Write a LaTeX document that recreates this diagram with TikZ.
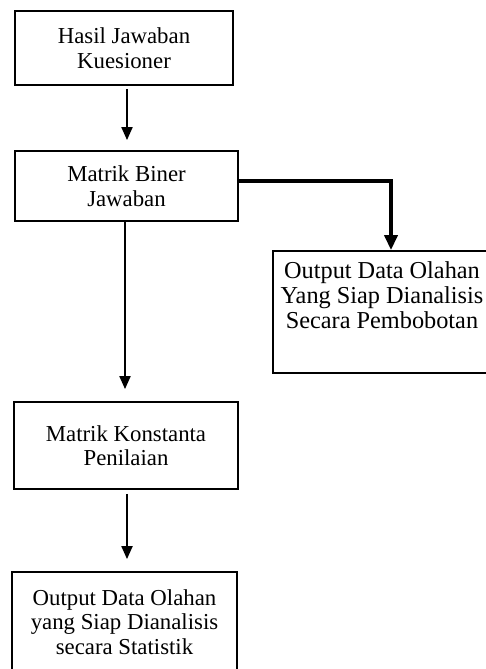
\documentclass[tikz,border=0pt]{standalone}
\usepackage{fontspec}
\setmainfont{Liberation Serif}
\usetikzlibrary{positioning, arrows.meta, calc}
\tikzset{
  every node/.style={font=\fontsize{22.8}{24.5}\selectfont},
  box/.style={draw, line width=1.8pt, align=center, inner sep=4pt},
  arr/.style={-{Triangle[length=13pt, width=11pt]}, line width=2pt},
  arrthick/.style={-{Triangle[length=15pt, width=13pt]}, line width=3.5pt},
}

\begin{document}
\begin{tikzpicture}[x=1pt, y=-1pt]
  \useasboundingbox (0,0) rectangle (486,669);
  \clip (0,0) rectangle (486,669);
  % main column
  \node[box, minimum width=218pt, minimum height=74pt] (hasil) at (124,48)
    {Hasil Jawaban\\Kuesioner};
  \node[box, minimum width=223pt, minimum height=70pt] (biner) at (126.5,186)
    {Matrik Biner\\Jawaban};
  \node[box, minimum width=224pt, minimum height=87pt] (konstanta) at (126,445.5)
    {Matrik Konstanta\\Penilaian};
  \node[box, minimum width=225pt, minimum height=122pt] (statistik) at (124.5,633)
    {Output Data Olahan\\yang Siap Dianalisis\\secara Statistik\\[-2.5pt]\mbox{}};
  % side branch
  \node[box, minimum width=218pt, minimum height=122pt, font=\fontsize{24.3}{25}\selectfont] (bobot) at (382,312)
    {Output Data Olahan\\Yang Siap Dianalisis\\Secara Pembobotan\\[8pt]\mbox{}};
  % connectors
  \draw[arr, shorten <=3pt, shorten >=10pt] ([xshift=3pt]hasil.south) -- ([xshift=3pt]hasil.south |- biner.north);
  \draw[arr, shorten >=12pt] ([xshift=-1.5pt]biner.south) -- ([xshift=-1.5pt]biner.south |- konstanta.north);
  \draw[arr, shorten <=4pt, shorten >=12pt] ([xshift=1pt]konstanta.south) -- ([xshift=1pt]konstanta.south |- statistik.north);
  \draw[arrthick] ([yshift=5pt]biner.east) -| ([xshift=9pt]bobot.north);
\end{tikzpicture}
\end{document}
